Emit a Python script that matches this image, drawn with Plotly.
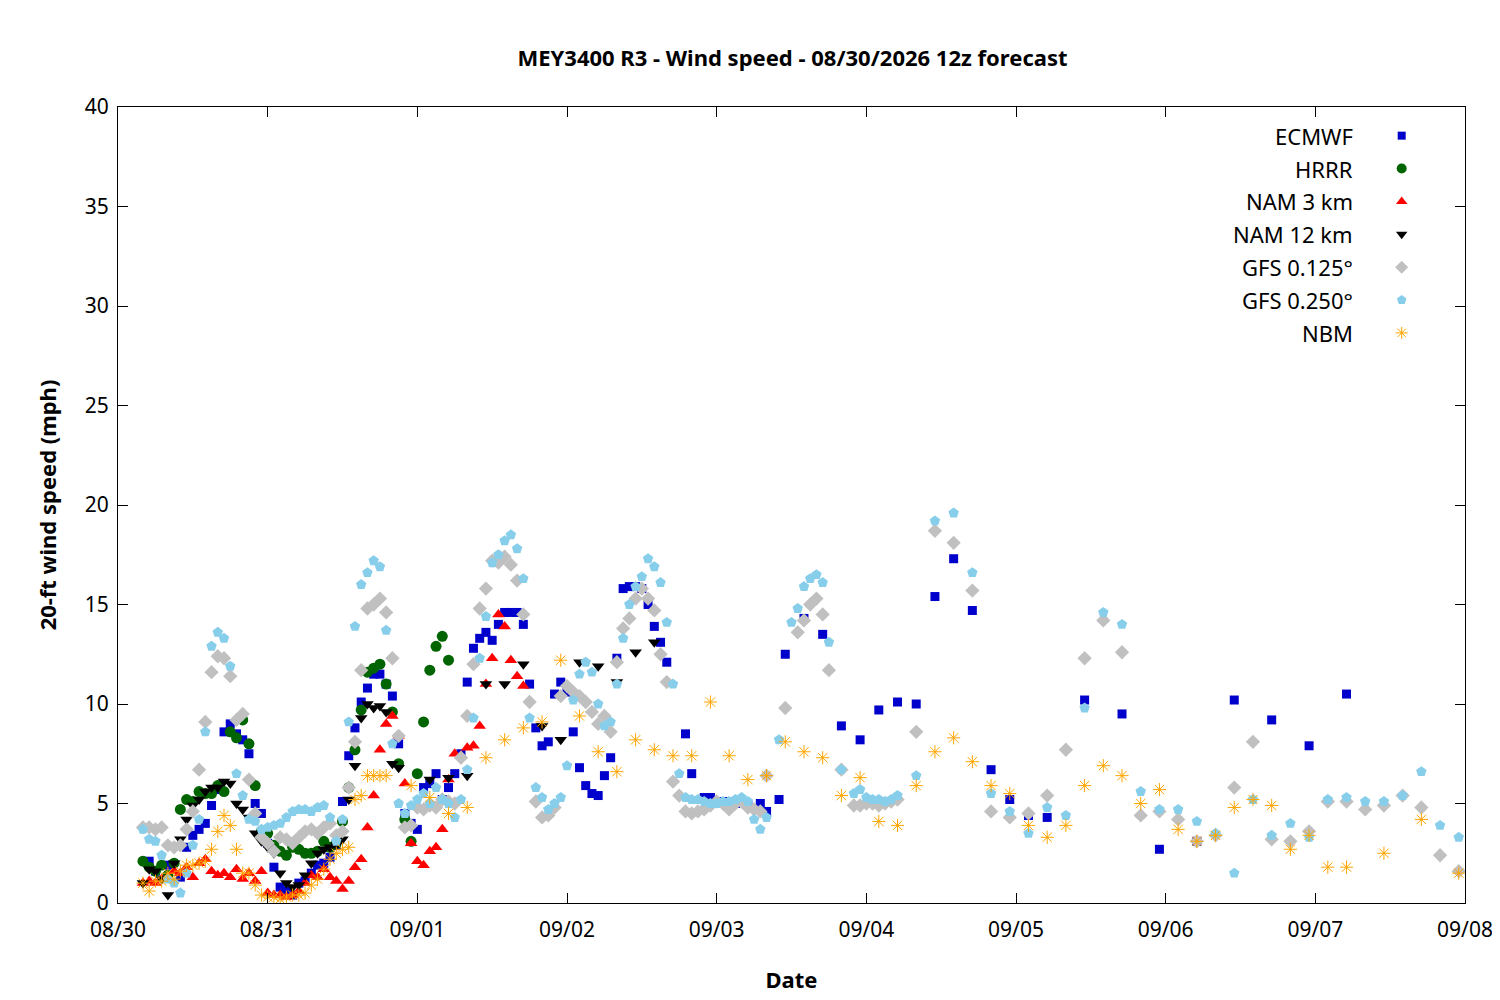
import plotly.graph_objects as go

# (forecast hour from 08/30 00z, wind speed mph)
ecmwf = [(5,2.1),(6,1.6),(8,1.9),(10,1.3),(11,2.8),(12,3.4),(13,3.7),(14,4.0),(15,4.9),(16,5.7),(17,8.6),(18,9.0),(19,8.5),(20,8.2),(21,7.5),(22,5.0),(23,4.5),(24,3.0),(25,1.8),(26,0.8),(27,0.6),(28,0.4),(29,1.0),(30,1.1),(31,1.5),(32,1.9),(33,2.0),(34,2.3),(35,2.9),(36,5.1),(37,7.4),(38,8.8),(39,10.1),(40,10.8),(41,11.5),(42,11.5),(43,11.0),(44,10.4),(45,8.0),(46,4.5),(47,4.0),(48,3.7),(49,5.8),(50,6.0),(51,6.5),(52,5.2),(53,5.8),(54,6.5),(55,7.5),(56,11.1),(57,12.8),(58,13.3),(59,13.6),(60,13.2),(61,14.0),(62,14.6),(63,14.6),(64,14.6),(65,14.0),(66,11.0),(67,8.8),(68,7.9),(69,8.1),(70,10.5),(71,11.1),(72,10.6),(73,8.6),(74,6.8),(75,5.9),(76,5.5),(77,5.4),(78,6.4),(79,7.3),(80,12.3),(81,15.8),(82,15.9),(83,15.9),(84,15.8),(85,15.0),(86,13.9),(87,13.1),(88,12.1),(91,8.5),(92,6.5),(94,5.3),(95,5.3),(97,5.1),(99,5.0),(101,4.9),(103,5.0),(104,4.6),(106,5.2),(107,12.5),(110,14.3),(113,13.5),(116,8.9),(119,8.2),(122,9.7),(125,10.1),(128,10.0),(131,15.4),(134,17.3),(137,14.7),(140,6.7),(143,5.2),(146,4.4),(149,4.3),(155,10.2),(161,9.5),(167,2.7),(173,3.1),(179,10.2),(185,9.2),(191,7.9),(197,10.5)]

hrrr = [(4,2.1),(5,1.8),(6,1.6),(7,1.9),(8,1.4),(9,2.0),(10,4.7),(11,5.2),(12,5.1),(13,5.6),(14,5.5),(15,5.5),(16,5.9),(17,5.6),(18,8.6),(19,8.3),(20,9.2),(21,8.0),(22,5.9),(23,3.6),(24,3.5),(25,2.9),(26,2.6),(27,2.4),(28,2.8),(29,2.7),(30,2.5),(31,2.5),(32,2.6),(33,3.1),(34,2.8),(35,3.0),(36,4.1),(37,5.8),(38,7.7),(39,9.7),(40,11.6),(41,11.8),(42,12.0),(43,11.0),(44,9.6),(45,7.0),(46,4.2),(47,3.1),(48,6.5),(49,9.1),(50,11.7),(51,12.9),(52,13.4),(53,12.2)]

nam3 = [(4,1.0),(5,1.1),(6,1.0),(7,1.2),(8,1.3),(9,1.6),(10,1.5),(11,1.8),(12,1.3),(13,2.0),(14,2.2),(15,1.6),(16,1.4),(17,1.5),(18,1.3),(19,1.7),(20,1.2),(21,1.5),(22,1.1),(23,1.6),(24,0.5),(25,0.4),(26,0.4),(27,0.3),(28,0.4),(29,0.6),(30,1.0),(31,1.4),(32,1.3),(33,1.7),(34,1.3),(35,1.1),(36,0.7),(37,1.1),(38,1.8),(39,2.2),(40,3.8),(41,5.4),(42,7.7),(43,9.0),(44,9.4),(45,8.4),(46,6.0),(47,3.0),(48,2.1),(49,1.9),(50,2.6),(51,2.8),(52,3.7),(53,6.2),(54,7.5),(55,7.4),(56,7.8),(57,7.9),(58,8.9),(59,11.0),(60,12.3),(61,14.5),(62,13.9),(63,12.2),(64,11.4),(65,10.9)]

nam12 = [(4,1.0),(5,1.7),(6,1.6),(7,1.2),(8,0.4),(9,2.0),(10,3.2),(11,4.2),(12,4.9),(13,5.2),(14,5.6),(15,5.8),(16,5.8),(17,6.1),(18,6.0),(19,5.0),(20,4.7),(21,4.3),(22,3.5),(23,3.1),(24,2.8),(25,2.5),(26,1.5),(27,1.0),(28,0.8),(29,0.9),(30,1.4),(31,2.0),(32,2.5),(33,2.7),(34,2.8),(35,2.9),(36,3.2),(37,5.2),(38,6.9),(39,9.3),(40,10.0),(41,9.8),(42,9.9),(43,9.6),(44,7.0),(45,6.8),(50,6.2),(53,6.3),(56,6.4),(59,11.0),(62,11.0),(65,12.0),(68,8.9),(71,8.2),(74,12.1),(77,11.9),(80,11.1),(83,12.6),(86,13.1)]

gfs125 = [(4,3.8),(5,3.8),(6,3.7),(7,3.8),(8,2.9),(9,2.8),(10,2.9),(11,3.7),(12,4.6),(13,6.7),(14,9.1),(15,11.6),(16,12.4),(17,12.3),(18,11.4),(19,9.2),(20,9.5),(21,6.2),(22,4.5),(23,3.3),(24,3.0),(25,2.6),(26,3.3),(27,3.2),(28,3.0),(29,3.3),(30,3.6),(31,3.7),(32,3.5),(33,3.8),(34,4.0),(35,3.4),(36,3.6),(37,5.8),(38,8.1),(39,11.7),(40,14.8),(41,15.0),(42,15.3),(43,14.6),(44,12.3),(45,8.4),(46,3.8),(47,3.9),(48,4.8),(49,4.7),(50,4.9),(51,4.8),(52,5.2),(53,5.1),(54,5.0),(55,7.3),(56,9.4),(57,12.0),(58,14.8),(59,15.8),(60,17.2),(61,17.1),(62,17.4),(63,17.0),(64,16.2),(65,14.5),(66,10.1),(67,5.1),(68,4.3),(69,4.4),(70,4.8),(71,10.4),(72,10.9),(73,10.6),(74,10.4),(75,10.1),(76,9.6),(77,9.0),(78,9.4),(79,8.6),(80,12.1),(81,13.8),(82,14.3),(83,15.3),(84,15.8),(85,15.3),(86,14.7),(87,12.5),(88,11.1),(89,6.1),(90,5.4),(91,4.6),(92,4.5),(93,4.6),(94,4.7),(95,4.9),(96,5.1),(97,5.0),(98,4.7),(99,5.0),(100,5.1),(101,4.8),(102,4.7),(103,4.6),(104,6.4),(107,9.8),(109,13.6),(110,14.2),(111,15.0),(112,15.3),(113,14.5),(114,11.7),(116,6.7),(118,4.9),(119,4.9),(120,5.0),(121,5.0),(122,4.9),(123,5.0),(124,5.1),(125,5.2),(128,8.6),(131,18.7),(134,18.1),(137,15.7),(140,4.6),(143,4.3),(146,4.5),(149,5.4),(152,7.7),(155,12.3),(158,14.2),(161,12.6),(164,4.4),(167,4.6),(170,4.2),(173,3.1),(176,3.4),(179,5.8),(182,8.1),(185,3.2),(188,3.1),(191,3.6),(194,5.1),(197,5.1),(200,4.7),(203,4.9),(206,5.4),(209,4.8),(212,2.4),(215,1.6)]

gfs250 = [(4,3.7),(5,3.2),(6,3.1),(7,2.4),(8,1.2),(9,1.0),(10,0.5),(11,1.5),(12,2.9),(13,4.2),(14,8.6),(15,12.9),(16,13.6),(17,13.3),(18,11.9),(19,6.5),(20,5.4),(21,4.2),(22,4.1),(23,3.7),(24,3.8),(25,3.9),(26,4.0),(27,4.3),(28,4.6),(29,4.7),(30,4.7),(31,4.6),(32,4.8),(33,4.9),(34,4.3),(35,3.1),(36,4.2),(37,9.1),(38,13.9),(39,16.0),(40,16.6),(41,17.2),(42,16.9),(43,13.7),(44,8.0),(45,5.0),(46,4.5),(47,4.9),(48,5.2),(49,5.5),(50,5.0),(51,5.8),(52,5.2),(53,5.0),(54,4.3),(55,5.2),(56,6.7),(57,9.3),(58,12.3),(59,14.4),(60,17.1),(61,17.5),(62,18.2),(63,18.5),(64,17.8),(65,16.3),(66,9.3),(67,5.8),(68,5.3),(69,4.7),(70,5.0),(71,5.3),(72,6.9),(73,10.2),(74,11.5),(75,12.1),(76,11.6),(77,10.0),(78,8.9),(79,9.1),(80,11.0),(81,13.3),(82,15.0),(83,15.9),(84,16.4),(85,17.3),(86,16.9),(87,16.1),(88,14.1),(89,11.0),(90,6.5),(91,5.3),(92,5.2),(93,5.2),(94,5.1),(95,5.0),(96,5.0),(97,5.1),(98,5.1),(99,5.2),(100,5.3),(101,5.1),(102,4.2),(103,3.7),(104,4.3),(106,8.2),(108,14.1),(109,14.8),(110,15.9),(111,16.3),(112,16.5),(113,16.1),(114,13.1),(116,6.7),(118,5.5),(119,5.7),(120,5.3),(121,5.2),(122,5.2),(123,5.1),(124,5.2),(125,5.4),(128,6.4),(131,19.2),(134,19.6),(137,16.6),(140,5.5),(143,4.6),(146,3.5),(149,4.8),(152,4.4),(155,9.8),(158,14.6),(161,14.0),(164,5.6),(167,4.7),(170,4.7),(173,4.1),(176,3.5),(179,1.5),(182,5.2),(185,3.4),(188,4.0),(191,3.3),(194,5.2),(197,5.3),(200,5.1),(203,5.1),(206,5.4),(209,6.6),(212,3.9),(215,3.3)]

nbm = [(4,1.0),(5,0.6),(6,1.1),(7,1.1),(8,1.5),(9,1.2),(10,1.6),(11,1.9),(12,1.9),(13,2.0),(14,2.1),(15,2.7),(16,3.6),(17,4.4),(18,3.9),(19,2.7),(20,1.5),(21,1.5),(22,0.9),(23,0.4),(24,0.3),(25,0.3),(26,0.2),(27,0.3),(28,0.4),(29,0.4),(30,0.5),(31,0.9),(32,1.2),(33,1.7),(34,2.2),(35,2.5),(36,2.7),(37,2.8),(38,5.2),(39,5.4),(40,6.4),(41,6.4),(42,6.4),(43,6.4),(47,5.9),(50,5.3),(53,4.5),(56,4.8),(59,7.3),(62,8.2),(65,8.8),(68,9.1),(71,12.2),(74,9.4),(77,7.6),(80,6.6),(83,8.2),(86,7.7),(89,7.4),(92,7.4),(95,10.1),(98,7.4),(101,6.2),(104,6.4),(107,8.1),(110,7.6),(113,7.3),(116,5.4),(119,6.3),(122,4.1),(125,3.9),(128,5.9),(131,7.6),(134,8.3),(137,7.1),(140,5.9),(143,5.5),(146,3.9),(149,3.3),(152,3.9),(155,5.9),(158,6.9),(161,6.4),(164,5.0),(167,5.7),(170,3.7),(173,3.1),(176,3.4),(179,4.8),(182,5.2),(185,4.9),(188,2.7),(191,3.4),(194,1.8),(197,1.8),(203,2.5),(209,4.2),(215,1.5)]

tick_hours = [0, 24, 48, 72, 96, 120, 144, 168, 192, 216]
tick_labels = ["08/30", "08/31", "09/01", "09/02", "09/03", "09/04", "09/05", "09/06", "09/07", "09/08"]

# name, data, symbol, color, size
series = [
    ("ECMWF", ecmwf, "square", "#0000cc", 9),
    ("HRRR", hrrr, "circle", "#006400", 11),
    ("NAM 3 km", nam3, "triangle-up", "#ff0000", 11),
    ("NAM 12 km", nam12, "triangle-down", "#000000", 11),
    ("GFS 0.125°", gfs125, "diamond", "#c0c0c0", 11),
    ("GFS 0.250°", gfs250, "pentagon", "#87ceeb", 11),
    ("NBM", nbm, "asterisk-open", "#ffa500", 11),
]

fig = go.Figure()
for name, data, sym, col, sz in series:
    hrs, vals = zip(*data)
    line = dict(color=col, width=1) if sym.endswith("open") else dict(width=0)
    fig.add_trace(go.Scatter(x=hrs, y=vals, mode="markers", name=name, showlegend=False,
                             marker=dict(symbol=sym, color=col, size=sz, line=line)))

# legend drawn by hand: text left, symbol right (gnuplot style)
for i, (name, data, sym, col, sz) in enumerate(series):
    ypos = 0.964 - i * 0.0413
    line = dict(color=col, width=1) if sym.endswith("open") else dict(width=0)
    fig.add_trace(go.Scatter(x=[0.953], y=[ypos], xaxis="x2", yaxis="y2", mode="markers",
                             showlegend=False, hoverinfo="skip",
                             marker=dict(symbol=sym, color=col, size=sz - 1, line=line)))
    fig.add_annotation(x=0.918, y=ypos, xref="x2", yref="y2", text=name, showarrow=False,
                       xanchor="right", font=dict(size=22, color="black"))

axis_common = dict(showline=True, linecolor="black", linewidth=1, mirror="ticks",
                   ticks="inside", ticklen=10, tickcolor="black", showgrid=False, zeroline=False,
                   automargin=False, tickfont=dict(size=21, color="black"))

fig.update_layout(
    width=1500, height=1000,
    paper_bgcolor="white", plot_bgcolor="white",
    font=dict(family="Noto Sans", color="black"),
    margin=dict(l=110, r=43, t=99, b=105, autoexpand=False),
    title=dict(text="<b>MEY3400 R3 - Wind speed - 08/30/2026 12z forecast</b>", x=0.523, xanchor="center",
               y=0.95, yanchor="middle", font=dict(size=22)),
    xaxis=dict(range=[0, 216], tickvals=tick_hours, ticktext=tick_labels, ticklabelstandoff=8,
               title=dict(text="<b>Date</b>", font=dict(size=22), standoff=30), **axis_common),
    yaxis=dict(range=[0, 40], dtick=5, ticklabelstandoff=4,
               title=dict(text="<b>20-ft wind speed (mph)</b>", font=dict(size=22), standoff=22), **axis_common),
    xaxis2=dict(range=[0, 1], overlaying="x", visible=False),
    yaxis2=dict(range=[0, 1], overlaying="y", visible=False),
)

fig.write_html("out.html")
